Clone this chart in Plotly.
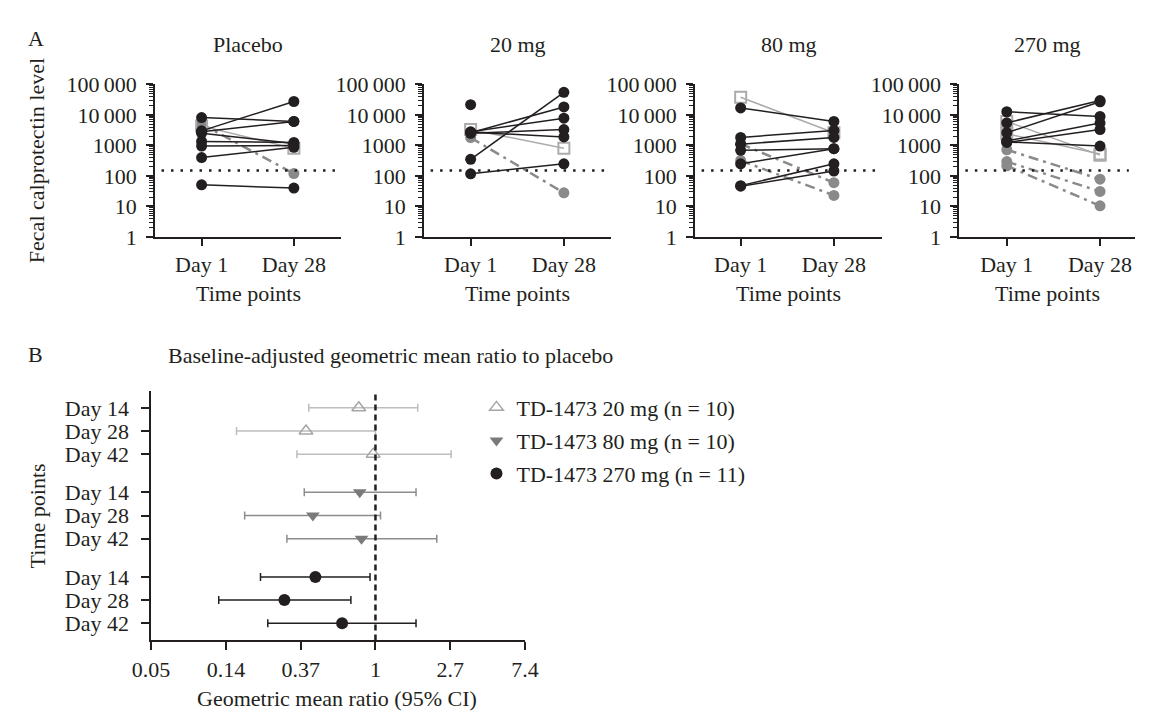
import plotly.graph_objects as go
import numpy as np

W, H = 1149, 722
FONT = "Liberation Serif"
FS = 22
INK = "#231f20"
GRAY_LIGHT = "#ababab"
GRAY_MID = "#8a8a8a"

# ---------------- Panel A data ----------------
panel_titles = ["Placebo", "20 mg", "80 mg", "270 mg"]
time_labels = ["Day 1", "Day 28"]
y_tick_vals = [1, 10, 100, 1000, 10000, 100000]
y_tick_text = ["1", "10", "100", "1000", "10\u2009000", "100\u2009000"]
threshold = 150

# black solid lines (Day 1 -> Day 28)
black_d1 = [
    [8200, 3000, 2800, 2500, 1350, 950, 400, 51],
    [2600, 2800, 2500, 2700, 350, 117],
    [17000, 1820, 1100, 690, 250, 48, 46],
    [12700, 5500, 2600, 1400, 1250, 1300],
]
black_d28 = [
    [6100, 27500, 6100, 1150, 1250, 1000, 870, 40],
    [18300, 7800, 3300, 1900, 55000, 250],
    [6100, 3100, 1820, 780, 780, 250, 145],
    [8900, 29500, 27000, 5400, 3300, 950],
]
# single Day-1 values without Day-28 value
black_d1_only = [[], [21700], [], []]

# light-gray open squares, solid light-gray lines
square_d1 = [[4300], [3300], [38000], [6100, 2400]]
square_d28 = [[800], [810], [2600], [480, 520]]

# gray filled circles, dash-dot lines
gray_d1 = [[5000], [1800], [1120, 320], [720, 295, 215]]
gray_d28 = [[120], [28], [60, 23], [78, 31, 10.5]]

# ---------------- Panel B data ----------------
forest_groups = ["TD-1473 20 mg (n = 10)", "TD-1473 80 mg (n = 10)", "TD-1473 270 mg (n = 11)"]
forest_days = ["Day 14", "Day 28", "Day 42"]
gmr = [[0.80, 0.395, 0.97], [0.81, 0.433, 0.83], [0.448, 0.296, 0.64]]
ci_lo = [[0.41, 0.156, 0.35], [0.386, 0.174, 0.306], [0.215, 0.123, 0.237]]
ci_hi = [[1.76, 1.00, 2.75], [1.72, 1.07, 2.27], [0.93, 0.72, 1.72]]
x_tick_text = ["0.05", "0.14", "0.37", "1", "2.7", "7.4"]
x_tick_exp = [-3, -2, -1, 0, 1, 2]

fig = go.Figure()


def seg(d1, d28):
    xs, ys = [], []
    for a, b in zip(d1, d28):
        xs += [1, 2, None]
        ys += [a, b, None]
    return xs, ys


# panel geometry (pixels)
ax_left = [140, 417, 696, 968]
ax_right = [332, 610, 889, 1149]
day1_px = [188, 465, 743, 1017]
day28_px = [283, 561, 839, 1113]
y_top_px, y_bot_px = 75, 233

minor_vals = [k * 10 ** d for d in range(0, 5) for k in range(2, 10)]
tickfont = dict(family=FONT, size=FS, color=INK)

for i in range(4):
    xa = "x" if i == 0 else f"x{i+1}"
    ya = "y" if i == 0 else f"y{i+1}"
    # gray dash-dot
    xs, ys = seg(gray_d1[i], gray_d28[i])
    fig.add_trace(go.Scatter(x=xs, y=ys, mode="lines+markers", xaxis=xa, yaxis=ya,
                             line=dict(color=GRAY_MID, width=2.5, dash="10px,5px,3px,5px"),
                             marker=dict(color=GRAY_MID, size=11), showlegend=False,
                             hoverinfo="skip"))
    # light gray squares
    xs, ys = seg(square_d1[i], square_d28[i])
    fig.add_trace(go.Scatter(x=xs, y=ys, mode="lines+markers", xaxis=xa, yaxis=ya,
                             line=dict(color=GRAY_LIGHT, width=1.5),
                             marker=dict(symbol="square-open", color=GRAY_LIGHT, size=11,
                                         line=dict(width=2, color=GRAY_LIGHT)),
                             showlegend=False, hoverinfo="skip"))
    # black
    xs, ys = seg(black_d1[i], black_d28[i])
    for v in black_d1_only[i]:
        xs += [1, None]
        ys += [v, None]
    fig.add_trace(go.Scatter(x=xs, y=ys, mode="lines+markers", xaxis=xa, yaxis=ya,
                             line=dict(color=INK, width=1.5),
                             marker=dict(color=INK, size=11), showlegend=False,
                             hoverinfo="skip", connectgaps=False))

    unit = day28_px[i] - day1_px[i]
    r0 = 1 - (day1_px[i] - ax_left[i]) / unit
    r1 = 2 + (ax_right[i] - day28_px[i]) / unit
    axis_common = dict(showline=True, linecolor=INK, linewidth=1.5, ticks="outside",
                       tickcolor=INK, tickwidth=1.5, showgrid=False, zeroline=False,
                       tickfont=tickfont)
    fig.update_layout(**{
        ("xaxis" if i == 0 else f"xaxis{i+1}"): dict(
            domain=[ax_left[i] / W, ax_right[i] / W], anchor=ya, range=[r0, r1],
            tickvals=[1, 2], ticktext=time_labels, ticklen=7, ticklabelstandoff=0,
            **axis_common),
        ("yaxis" if i == 0 else f"yaxis{i+1}"): dict(
            domain=[1 - y_bot_px / H, 1 - y_top_px / H], anchor=xa, type="log",
            range=[0, 5], tickvals=y_tick_vals, ticktext=y_tick_text, ticklen=7,
            ticklabelstandoff=5,
            minor=dict(tickmode="array", tickvals=minor_vals, ticks="outside",
                       ticklen=4, tickcolor=INK, tickwidth=1),
            **axis_common),
    })
    # threshold dotted line
    fig.add_shape(type="line", xref=f"{xa} domain", yref=ya, x0=0.035, x1=0.965,
                  y0=threshold, y1=threshold,
                  line=dict(color=INK, width=2.5, dash="2.5px,7px"))
    cx = (ax_left[i] + min(ax_right[i], ax_left[i] + 193)) / 2
    fig.add_annotation(text=panel_titles[i], x=cx / W, y=1 - 34 / H, xref="paper", yref="paper",
                       showarrow=False, font=tickfont, xanchor="center", yanchor="middle")
    fig.add_annotation(text="Time points", x=cx / W, y=1 - 292 / H, xref="paper", yref="paper",
                       showarrow=False, font=tickfont, xanchor="center", yanchor="middle")

# ---------------- Panel B ----------------
colors_err = ["#bdbdbd", "#8c8c8c", INK]
marker_defs = [
    dict(symbol="triangle-up-open", color="#a6a6a6", size=12, line=dict(width=1.5, color="#a6a6a6")),
    dict(symbol="triangle-down", color="#7a7a7a", size=12),
    dict(symbol="circle", color=INK, size=12),
]
group_step = 3.65
tickpos, ticklab = [], []
for g in range(3):
    ypos = [g * group_step + r for r in range(3)]
    tickpos += ypos
    ticklab += forest_days
    x = gmr[g]
    plus = [h - m for h, m in zip(ci_hi[g], x)]
    minus = [m - l for m, l in zip(x, ci_lo[g])]
    fig.add_trace(go.Scatter(
        x=x, y=ypos, mode="markers", xaxis="x5", yaxis="y5", name=forest_groups[g],
        marker=marker_defs[g],
        error_x=dict(type="data", symmetric=False, array=plus, arrayminus=minus,
                     color=colors_err[g], thickness=1.5, width=4),
        hoverinfo="skip", legendgroup=f"g{g}"))

bx0, bx1 = 136, 521
by0, by1 = 393, 651
row_first_px, row_step_px = 410, 24
yr_top = -(row_first_px - by0) / row_step_px
yr_bot = yr_top + (by1 - by0) / row_step_px
fig.update_layout(
    xaxis5=dict(domain=[bx0 / W, bx1 / W], anchor="y5", type="log",
                range=[x_tick_exp[0] / np.log(10), x_tick_exp[-1] / np.log(10)],
                tickvals=[float(np.exp(e)) for e in x_tick_exp], ticktext=x_tick_text,
                showline=True, linecolor=INK, linewidth=1.5, ticks="outside", ticklen=8,
                tickcolor=INK, tickwidth=1.5, showgrid=False, zeroline=False,
                ticklabelstandoff=0, tickfont=tickfont),
    yaxis5=dict(domain=[1 - by1 / H, 1 - by0 / H], anchor="x5", range=[yr_bot, yr_top],
                tickvals=tickpos, ticktext=ticklab, showline=True, linecolor=INK,
                linewidth=1.5, ticks="outside", ticklen=8, tickcolor=INK, tickwidth=1.5,
                showgrid=False, zeroline=False, ticklabelstandoff=8,
                tickfont=tickfont),
)
fig.add_shape(type="line", xref="x5", yref="y5 domain", x0=1, x1=1, y0=0, y1=1,
              line=dict(color=INK, width=2.5, dash="6px,4px"))

# labels
def ann(text, x, y, angle=0, anchor="center"):
    fig.add_annotation(text=text, x=x / W, y=1 - y / H, xref="paper", yref="paper",
                       showarrow=False, textangle=angle, xanchor=anchor, yanchor="middle",
                       font=tickfont)

ann("A", 7, 27, anchor="left")
ann("B", 7, 355, anchor="left")
ann("Fecal calprotectin level", 18, 154, angle=-90)
ann("Time points", 19, 522, angle=-90)
ann("Baseline-adjusted geometric mean ratio to placebo", 151, 356, anchor="left")
ann("Geometric mean ratio (95% CI)", 327, 711)

fig.update_layout(
    width=W, height=H, margin=dict(l=0, r=0, t=0, b=0),
    paper_bgcolor="white", plot_bgcolor="white",
    showlegend=True,
    legend=dict(x=471 / W, y=1 - 388 / H, xanchor="left", yanchor="top",
                font=tickfont, bgcolor="rgba(0,0,0,0)",
                tracegroupgap=1.5, itemwidth=30),
)

fig.write_html("out.html", config={"displayModeBar": False},
               post_script="document.body.style.margin='0';document.body.style.overflow='hidden';")
